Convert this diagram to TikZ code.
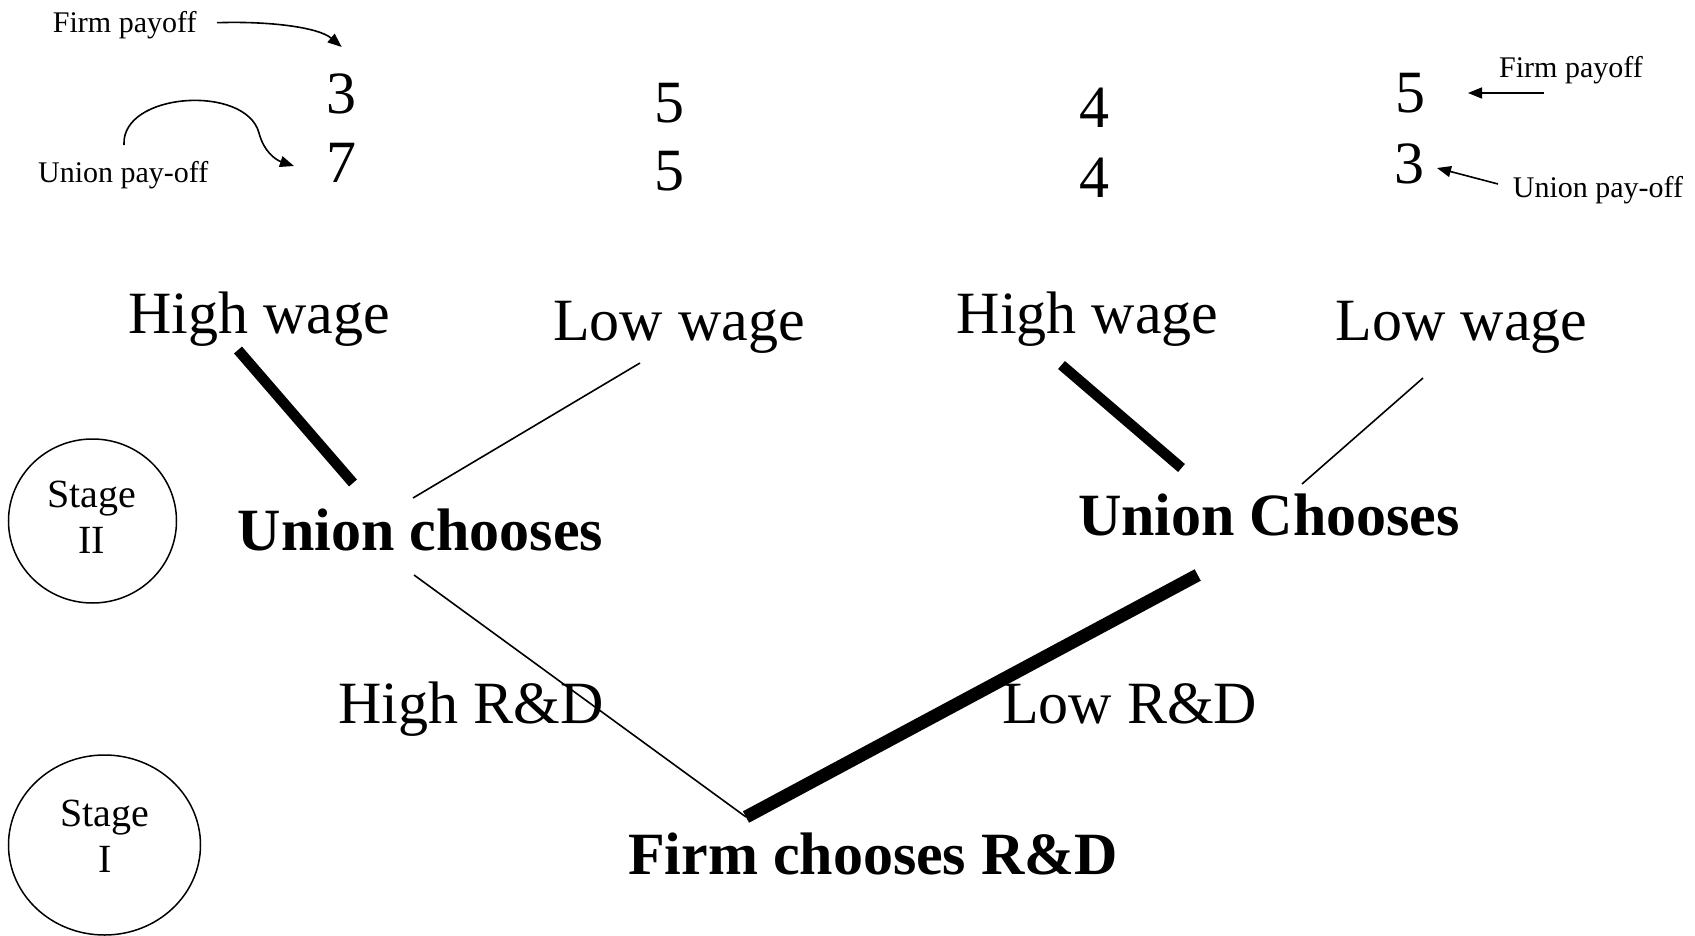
\documentclass[tikz,border=0pt]{standalone}
\usepackage{fontspec}
\setmainfont{Liberation Serif}
\usetikzlibrary{arrows.meta,shapes.geometric}
\begin{document}
\begin{tikzpicture}[x=1pt,y=-1pt,
  lbl/.style={inner sep=0pt,anchor=base,font=\fontsize{60}{72}\selectfont},
  blbl/.style={inner sep=0pt,anchor=base,font=\fontsize{60}{72}\selectfont\bfseries},
  small/.style={inner sep=0pt,anchor=base,font=\fontsize{30}{36}\selectfont},
  stagetxt/.style={inner sep=0pt,align=center,font=\fontsize{40}{46}\selectfont},
  stagering/.style={draw,line width=1.5pt,ellipse,inner sep=0pt},
  thinline/.style={line width=1.6pt},
  thickline/.style={line width=10.5pt},
  thickerline/.style={line width=13pt},
  pointer/.style={line width=1.6pt,-{Triangle[length=14pt,width=11pt]}}]
\useasboundingbox (0,0) rectangle (1695,936);

% payoffs
\node[lbl] (p1a) at (341.7,114) {3};
\node[lbl] (p1b) at (341.7,183) {7};
\node[lbl] (p2a) at (669,123) {5};
\node[lbl] (p2b) at (669,191) {5};
\node[lbl] (p3a) at (1094,128) {4};
\node[lbl] (p3b) at (1094,198) {4};
\node[lbl] (p4a) at (1410.5,112.5) {5};
\node[lbl] (p4b) at (1409,184) {3};

% payoff annotations
\node[small] (fpL) at (124.7,33) {Firm payoff};
\node[small] (upL) at (123.3,182.5) {Union pay-off};
\node[small] (fpR) at (1571,78) {Firm payoff};
\node[small] (upR) at (1598,198) {Union pay-off};

\coordinate (fpLs) at (217,22.7);
\coordinate (fpLe) at (341.7,47);
\coordinate (upLs) at (124,145);
\coordinate (upLm) at (259,133);
\coordinate (upLe) at (294,166);
\coordinate (fpRs) at (1544,93);
\coordinate (fpRe) at (1468,93);
\coordinate (upRs) at (1498,184);
\coordinate (upRe) at (1437,168);

\draw[pointer] (fpLs) .. controls (268,21) and (318,27) .. (fpLe);
\draw[pointer] (upLs) .. controls (121,92) and (246,84) .. (upLm) .. controls (264,152) and (276,160) .. (upLe);
\draw[pointer] (fpRs) -- (fpRe);
\draw[pointer] (upRs) -- (upRe);

% action labels
\node[lbl] (hw1) at (259,333) {High wage};
\node[lbl] (lw1) at (679,340) {Low wage};
\node[lbl] (hw2) at (1087.5,333) {High wage};
\node[lbl] (lw2) at (1461.5,340) {Low wage};

\node[blbl] (uc1) at (420.5,550) {Union chooses};
\node[blbl] (uc2) at (1269,535) {Union Chooses};

\node[lbl] (hrd) at (471,723) {High R\&D};
\node[lbl] (lrd) at (1129.6,723) {Low R\&D};

\node[blbl] (firm) at (873,874.5) {Firm chooses R\&D};

% stage markers
\node[stagering,minimum width=168pt,minimum height=164pt] (st2) at (92.5,521) {};
\node[stagetxt] (st2t) at (92,517) {Stage\\II};
\node[stagering,minimum width=192pt,minimum height=180pt] (st1) at (104.5,845) {};
\node[stagetxt] (st1t) at (105,836) {Stage\\I};

% tree branches
\coordinate (a1) at (238,350);
\coordinate (a2) at (353,483);
\coordinate (b1) at (640,363);
\coordinate (b2) at (413,498);
\coordinate (c1) at (1061.5,365);
\coordinate (c2) at (1181.5,468);
\coordinate (d1) at (1423,378);
\coordinate (d2) at (1302,484);
\coordinate (e1) at (414,575);
\coordinate (root) at (746,817);
\coordinate (f1) at (1197.7,575);

\draw[thickline] (a1) -- (a2);
\draw[thinline] (b1) -- (b2);
\draw[thickline] (c1) -- (c2);
\draw[thinline] (d1) -- (d2);
\draw[thinline] (e1) -- (root);
\draw[thickerline] (root) -- (f1);
\end{tikzpicture}
\end{document}
